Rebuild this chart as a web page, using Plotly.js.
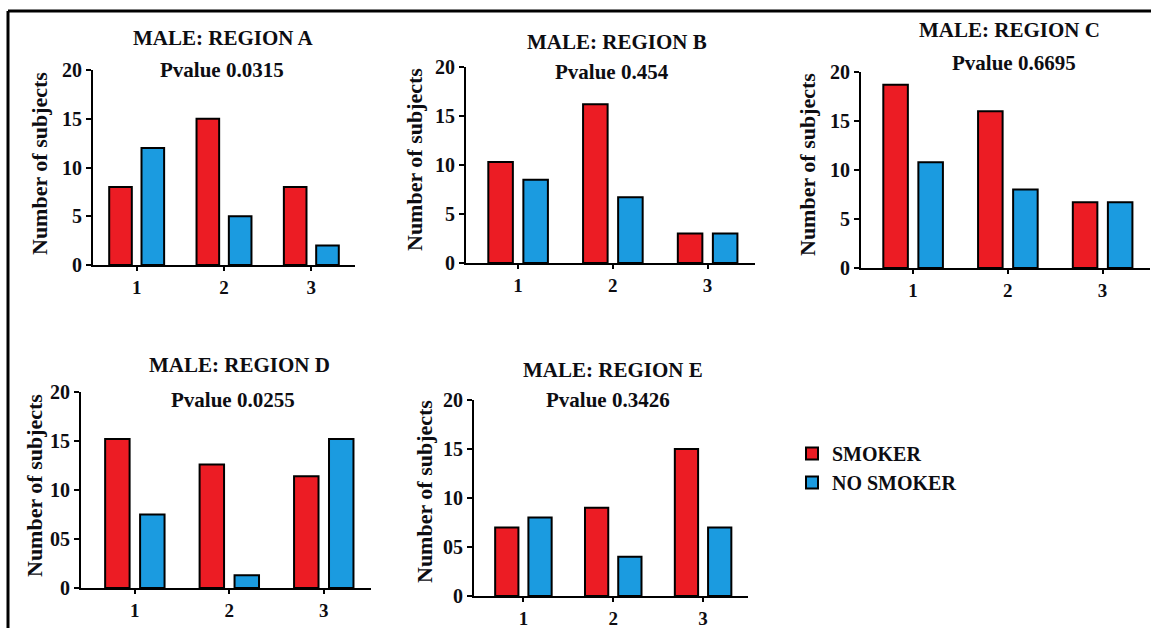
<!DOCTYPE html>
<html>
<head>
<meta charset="utf-8">
<script src="https://cdn.plot.ly/plotly-3.0.1.min.js"></script>
<style>
html,body{margin:0;padding:0;background:#fff;}
#chart{width:1151px;height:628px;}
</style>
</head>
<body>
<div id="chart"></div>
<script>
// ---- data ----
const categories = [1, 2, 3];
const seriesNames = ["SMOKER", "NO SMOKER"];
const panelTitles = ["MALE: REGION A", "MALE: REGION B", "MALE: REGION C", "MALE: REGION D", "MALE: REGION E"];
const pvalues = ["Pvalue 0.0315", "Pvalue 0.454", "Pvalue 0.6695", "Pvalue 0.0255", "Pvalue 0.3426"];
const smokerA = [8, 15, 8];
const noSmokerA = [12, 5, 2];
const smokerB = [10.3, 16.2, 3];
const noSmokerB = [8.5, 6.7, 3];
const smokerC = [18.7, 16, 6.7];
const noSmokerC = [10.8, 8, 6.7];
const smokerD = [15.2, 12.6, 11.4];
const noSmokerD = [7.5, 1.3, 15.2];
const smokerE = [7, 9, 15];
const noSmokerE = [8, 4, 7];
const yTickValues = [0, 5, 10, 15, 20];
const yTickTextTop = ["0", "5", "10", "15", "20"];
const yTickTextBottom = ["0", "05", "10", "15", "20"];
const yAxisTitle = "Number of subjects";

// ---- layout geometry (pixels) ----
const W = 1151, H = 628;
const fx = p => p / W;
const fy = p => 1 - p / H;
const panels = [
  {x0: 93,  x1: 355,  yTop: 70,  yBot: 265, xr: [0.5, 3.5],  title: [223, 38],  pval: [222, 70],  ytitle: [40, 164],  ticks: yTickTextTop},
  {x0: 466, x1: 755,  yTop: 67,  yBot: 263, xr: [0.45, 3.5], title: [617, 42],  pval: [612, 72],  ytitle: [415, 160], ticks: yTickTextTop},
  {x0: 861, x1: 1150, yTop: 72,  yBot: 268, xr: [0.45, 3.5], title: [1009, 30], pval: [1014, 63], ytitle: [807, 165], ticks: yTickTextTop},
  {x0: 81,  x1: 371,  yTop: 392, yBot: 588, xr: [0.43, 3.5], title: [240, 365], pval: [233, 400], ytitle: [34, 486],  ticks: yTickTextBottom},
  {x0: 474, x1: 748,  yTop: 400, yBot: 596, xr: [0.45, 3.5], title: [613, 370], pval: [608, 400], ytitle: [424, 492], ticks: yTickTextBottom}
];
const smokerSeries = [smokerA, smokerB, smokerC, smokerD, smokerE];
const noSmokerSeries = [noSmokerA, noSmokerB, noSmokerC, noSmokerD, noSmokerE];

const RED = "#EC1C24";
const BLUE = "#1B9BE0";
const FONT = "Liberation Serif";
const TXT = "#0d0d12";

const data = [];
const layout = {
  width: W, height: H,
  margin: {l: 0, r: 0, t: 0, b: 0},
  paper_bgcolor: "#ffffff",
  plot_bgcolor: "rgba(0,0,0,0)",
  barmode: "group",
  bargap: 0.26,
  bargroupgap: 0.3,
  showlegend: true,
  legend: {
    x: fx(792), y: fy(434), xanchor: "left", yanchor: "top",
    font: {family: FONT, size: 20, weight: "bold", color: TXT},
    bgcolor: "rgba(0,0,0,0)",
    tracegroupgap: 0, itemwidth: 30
  },
  annotations: [],
  shapes: [
    {type: "line", xref: "paper", yref: "paper", x0: fx(8), x1: fx(8), y0: 0, y1: fy(11), line: {color: "#000", width: 3}},
    {type: "line", xref: "paper", yref: "paper", x0: fx(8), x1: 1, y0: fy(11), y1: fy(11), line: {color: "#000", width: 3}}
  ],
  font: {family: FONT, color: TXT}
};

panels.forEach((p, i) => {
  const n = i === 0 ? "" : String(i + 1);
  const xa = "x" + n, ya = "y" + n;
  data.push({
    type: "bar", x: categories, y: smokerSeries[i], name: seriesNames[0],
    xaxis: xa, yaxis: ya, legendgroup: "s", showlegend: i === 0,
    marker: {color: RED, line: {color: "#000", width: 2}}, hoverinfo: "y"
  });
  data.push({
    type: "bar", x: categories, y: noSmokerSeries[i], name: seriesNames[1],
    xaxis: xa, yaxis: ya, legendgroup: "n", showlegend: i === 0,
    marker: {color: BLUE, line: {color: "#000", width: 2}}, hoverinfo: "y"
  });
  layout["xaxis" + n] = {
    domain: [fx(p.x0), fx(p.x1)], anchor: ya, range: p.xr,
    tickvals: categories, ticktext: categories.map(String),
    showline: true, linecolor: "#000", linewidth: 2,
    ticks: "outside", ticklen: 4, tickwidth: 2, tickcolor: "#000",
    showgrid: false, zeroline: false, fixedrange: true,
    tickfont: {family: FONT, size: 19, weight: "bold", color: TXT}
  };
  layout["yaxis" + n] = {
    domain: [fy(p.yBot), fy(p.yTop)], anchor: xa, range: [0, 20],
    tickvals: yTickValues, ticktext: p.ticks,
    showline: true, linecolor: "#000", linewidth: 2,
    ticks: "outside", ticklen: 5, tickwidth: 2, tickcolor: "#000",
    showgrid: false, zeroline: false, fixedrange: true,
    tickfont: {family: FONT, size: 20, weight: "bold", color: TXT}
  };
  layout.annotations.push({
    xref: "paper", yref: "paper", x: fx(p.title[0]), y: fy(p.title[1]),
    xanchor: "center", yanchor: "middle", showarrow: false,
    text: panelTitles[i], font: {family: FONT, size: 21, weight: "bold", color: TXT}
  });
  layout.annotations.push({
    xref: "paper", yref: "paper", x: fx(p.pval[0]), y: fy(p.pval[1]),
    xanchor: "center", yanchor: "middle", showarrow: false,
    text: pvalues[i], font: {family: FONT, size: 21, weight: "bold", color: TXT}
  });
  layout.annotations.push({
    xref: "paper", yref: "paper", x: fx(p.ytitle[0]), y: fy(p.ytitle[1]),
    xanchor: "center", yanchor: "middle", showarrow: false, textangle: -90,
    text: yAxisTitle, font: {family: FONT, size: 22, weight: "bold", color: TXT}
  });
});

Plotly.newPlot("chart", data, layout, {displayModeBar: false, staticPlot: true});
</script>
</body>
</html>
